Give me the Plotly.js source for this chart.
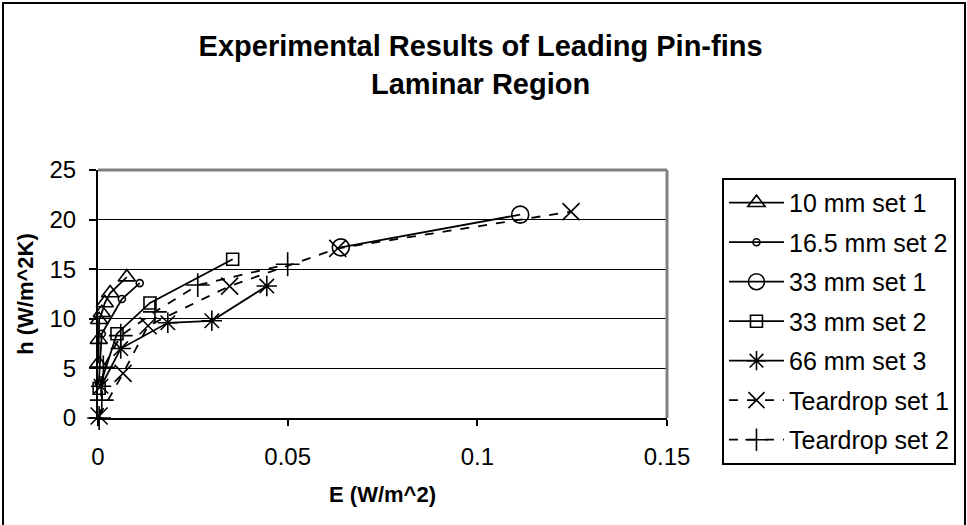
<!DOCTYPE html>
<html>
<head>
<meta charset="utf-8">
<script src="https://cdn.plot.ly/plotly-3.0.1.min.js"></script>
<style>
  html, body { margin: 0; padding: 0; background: #fff; }
  #wrap { position: relative; width: 967px; height: 525px; overflow: hidden; }
  #chart { width: 967px; height: 525px; }
  #frame { position: absolute; left: 2px; top: 2px; width: 960px; height: 600px;
           border: 2px solid #000; pointer-events: none; }
</style>
</head>
<body>
<div id="wrap">
  <div id="chart"></div>
  <div id="frame"></div>
</div>
<script>
// ---- data ----
const seriesNames = ["10 mm set 1", "16.5 mm set 2", "33 mm set 1", "33 mm set 2",
                     "66 mm set 3", "Teardrop set 1", "Teardrop set 2"];

const e10  = [0.0001, 0.0002, 0.0003, 0.0010, 0.0018, 0.0032, 0.0076];
const h10  = [5.5, 7.9, 9.9, 10.6, 11.6, 12.6, 14.2];

const e165 = [0.0002, 0.0010, 0.0063, 0.0110];
const h165 = [3.5, 8.5, 12.0, 13.6];

const e33a = [0.0640, 0.1113];
const h33a = [17.2, 20.5];

const e33b = [0.0003, 0.0050, 0.0137, 0.0355];
const h33b = [3.0, 8.5, 11.6, 16.0];

const e66  = [0.0008, 0.0060, 0.0184, 0.0300, 0.0445];
const h66  = [3.2, 7.0, 9.6, 9.8, 13.3];

const eT1  = [0.0003, 0.0066, 0.0132, 0.0347, 0.0632, 0.1247];
const hT1  = [0.2, 4.5, 9.3, 13.3, 17.1, 20.8];

const eT2  = [0.0003, 0.0010, 0.0014, 0.0060, 0.0150, 0.0263, 0.0500];
const hT2  = [0.0, 1.8, 5.1, 8.3, 10.7, 13.4, 15.5];

const yTicks = [0, 5, 10, 15, 20, 25];
const xTicks = [0, 0.05, 0.1, 0.15];

// ---- styling ----
const xs = [e10, e165, e33a, e33b, e66, eT1, eT2];
const ys = [h10, h165, h33a, h33b, h66, hT1, hT2];
const symbols = ["triangle-up-open", "circle-open", "circle-open", "square-open",
                 "asterisk-open", "x-thin-open", "cross-thin-open"];
const sizes = [15, 7, 17, 12, 17, 17, 17];
const dashes = ["solid", "solid", "solid", "solid", "solid", "dash", "dash"];

const traces = seriesNames.map((n, i) => ({
  type: "scatter",
  mode: "lines+markers",
  name: n,
  legendgroup: n,
  x: xs[i],
  y: ys[i],
  cliponaxis: false,
  line: { color: "#000", width: 1.8, dash: dashes[i] },
  marker: { symbol: symbols[i], size: sizes[i], color: "#000",
            line: { color: "#000", width: 1.6 } }
}));

const layout = {
  width: 967, height: 525,
  margin: { l: 98, r: 299, t: 170, b: 107, pad: 0 },
  paper_bgcolor: "#fff", plot_bgcolor: "#fff",
  font: { family: "Liberation Sans, Arial, sans-serif", color: "#000" },
  showlegend: true,
  title: {
    text: "<b>Experimental Results of Leading Pin-fins<br>Laminar Region</b>",
    font: { size: 29, family: "Liberation Sans, Arial, sans-serif", color: "#000" },
    x: 0.497, xanchor: "center", y: 0.893, yanchor: "top"
  },
  xaxis: {
    range: [0, 0.15], tickvals: xTicks, ticks: "outside", ticklen: 6, tickwidth: 2,
    tickcolor: "#000", showline: true, linecolor: "#000", linewidth: 2,
    showgrid: false, zeroline: false, mirror: false,
    tickfont: { size: 24 }, ticklabelstandoff: 10,
    title: { text: "<b>E (W/m^2)</b>", font: { size: 22 }, standoff: 18 }
  },
  yaxis: {
    range: [0, 25], tickvals: yTicks, ticks: "outside", ticklen: 7, tickwidth: 2,
    tickcolor: "#000", showline: true, linecolor: "#000", linewidth: 2,
    showgrid: true, gridcolor: "#000", gridwidth: 1, zeroline: false,
    tickfont: { size: 24 }, ticklabelstandoff: 8,
    title: { text: "<b>h (W/m^2K)</b>", font: { size: 22 }, standoff: 10 }
  },
  shapes: [
    { type: "line", xref: "paper", yref: "paper", x0: 0, x1: 1, y0: 1, y1: 1,
      line: { color: "#808080", width: 3 } },
    { type: "line", xref: "paper", yref: "paper", x0: 1, x1: 1, y0: 0, y1: 1,
      line: { color: "#808080", width: 3 } }
  ],
  legend: {
    x: 1.0947, y: 0.968, xanchor: "left", yanchor: "top",
    bordercolor: "#000", borderwidth: 2, bgcolor: "#fff",
    font: { size: 25, color: "#000" },
    traceorder: "grouped", tracegroupgap: 4,
    itemwidth: 55, maxheight: 400
  }
};

Plotly.newPlot("chart", traces, layout, { displayModeBar: false, staticPlot: true });
</script>
</body>
</html>
